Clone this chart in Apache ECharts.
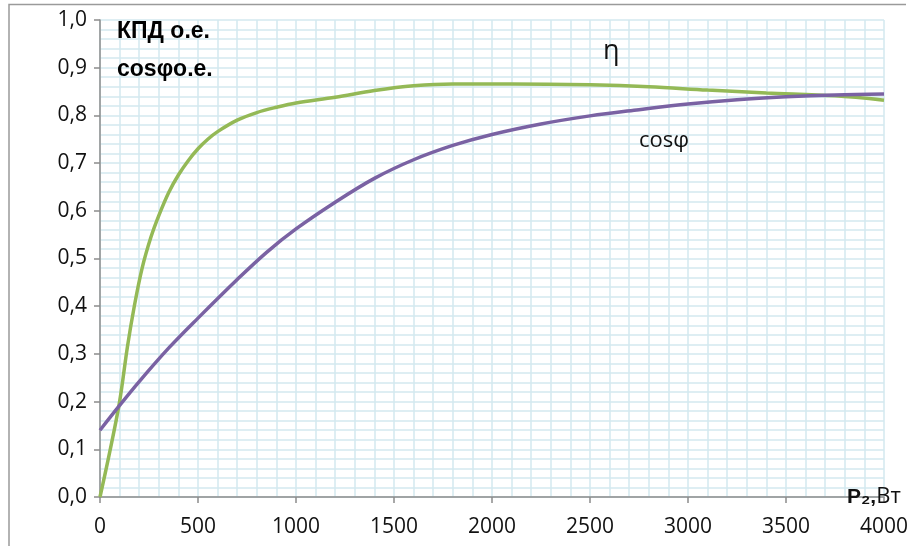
<!DOCTYPE html>
<html>
<head>
<meta charset="utf-8">
<script src="https://cdn.jsdelivr.net/npm/echarts@6/dist/echarts.min.js"></script>
<style>
html,body{margin:0;padding:0;background:#fff;}
#c{width:915px;height:546px;}
</style>
</head>
<body>
<div id="c"></div>
<script>
// Data
const powerEta = [0, 50, 100, 140, 175, 215, 260, 300, 350, 400, 450, 500, 550, 600, 700, 800, 900, 1000, 1200, 1400, 1600, 1800, 2100, 2500, 2800, 3100, 3400, 3750, 4000];
const etaValues = [0, 0.095, 0.2, 0.315, 0.40, 0.48, 0.545, 0.59, 0.638, 0.675, 0.705, 0.73, 0.75, 0.766, 0.79, 0.806, 0.817, 0.826, 0.838, 0.852, 0.862, 0.866, 0.866, 0.864, 0.860, 0.853, 0.847, 0.841, 0.832];
const powerCos = [0, 100, 200, 350, 500, 700, 850, 1000, 1200, 1400, 1600, 1800, 2000, 2250, 2500, 2750, 3000, 3250, 3500, 3750, 4000];
const cosValues = [0.140, 0.192, 0.242, 0.312, 0.375, 0.456, 0.513, 0.562, 0.618, 0.668, 0.707, 0.737, 0.760, 0.782, 0.799, 0.812, 0.824, 0.833, 0.839, 0.843, 0.845];
const xTicks = [0, 500, 1000, 1500, 2000, 2500, 3000, 3500, 4000];
const yTicks = [0, 0.1, 0.2, 0.3, 0.4, 0.5, 0.6, 0.7, 0.8, 0.9, 1.0];

const FONT = 'Open Sans';
const BFONT = 'Liberation Sans';
const chart = echarts.init(document.getElementById('c'), null, {renderer: 'canvas'});
const gridColor = '#d3e9ef';
const txt = (extra) => Object.assign({stroke: 'transparent', lineWidth: 0, textShadowBlur: 0}, extra);
chart.setOption({
  backgroundColor: '#fff',
  animation: false,
  grid: {left: 100, right: 31, top: 20, bottom: 49},
  xAxis: {
    type: 'value', min: xTicks[0], max: xTicks[xTicks.length - 1], interval: 500,
    axisLine: {show: true, lineStyle: {color: '#8c8c8c', width: 1.5}},
    axisTick: {show: true, length: 6, lineStyle: {color: '#8c8c8c', width: 1.5}},
    axisLabel: {color: '#111', fontFamily: FONT, fontSize: 21, margin: 20,
      formatter: v => String(v)},
    splitLine: {show: true, lineStyle: {color: gridColor, width: 1.5}},
    minorTick: {show: false, splitNumber: 5},
    minorSplitLine: {show: true, lineStyle: {color: gridColor, width: 1.5}}
  },
  yAxis: {
    type: 'value', min: yTicks[0], max: yTicks[yTicks.length - 1], interval: 0.1,
    axisLine: {show: true, lineStyle: {color: '#8c8c8c', width: 1.5}},
    axisTick: {show: true, length: 6, lineStyle: {color: '#8c8c8c', width: 1.5}},
    axisLabel: {color: '#111', fontFamily: FONT, fontSize: 21, margin: 13,
      formatter: v => v.toFixed(1).replace('.', ',')},
    splitLine: {show: true, lineStyle: {color: gridColor, width: 1.5}},
    minorTick: {show: false, splitNumber: 5},
    minorSplitLine: {show: true, lineStyle: {color: gridColor, width: 1.5}}
  },
  series: [
    {
      name: 'η', type: 'line', smooth: 0.35, symbol: 'none', z: 3,
      lineStyle: {color: '#94b956', width: 3.5},
      data: powerEta.map((p, i) => [p, etaValues[i]])
    },
    {
      name: 'cosφ', type: 'line', smooth: 0.35, symbol: 'none', z: 4,
      lineStyle: {color: '#7a62a3', width: 3.5},
      data: powerCos.map((p, i) => [p, cosValues[i]])
    }
  ],
  graphic: [
    {type: 'polyline', silent: true, shape: {points: [[9, 546], [9, 4.5], [906, 4.5]]},
     style: {stroke: '#9a9a9a', lineWidth: 1.5, fill: null}},
    {type: 'text', left: 117, top: 20, z: 100, style: txt({text: 'КПД о.е.', fontFamily: BFONT, fontSize: 23, fontWeight: 'bold', fill: '#000'})},
    {type: 'text', left: 117, top: 58, z: 100, style: txt({text: 'cosφо.е.', fontFamily: BFONT, fontSize: 23, fontWeight: 'bold', fill: '#000'})},
    {type: 'text', left: 603, top: 38, z: 100, style: txt({text: 'η', fontFamily: FONT, fontSize: 27, fill: '#111'})},
    {type: 'text', left: 639, top: 130, z: 100, style: txt({text: 'cosφ', fontFamily: FONT, fontSize: 22, fill: '#111'})},
    {type: 'text', left: 847, top: 486, z: 100, style: txt({
      rich: {b: {fontFamily: BFONT, fontSize: 21, fontWeight: 'bold', fill: '#111'},
             n: {fontFamily: FONT, fontSize: 22, fill: '#111'}},
      text: '{b|P₂,}{n|Вт}'})}
  ]
});
</script>
</body>
</html>
